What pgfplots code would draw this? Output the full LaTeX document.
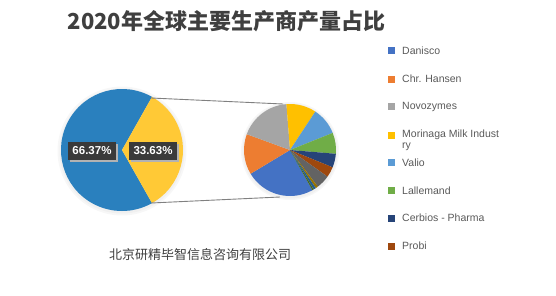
\documentclass[border=0pt]{standalone}
\usepackage{pgfplots}
\pgfplotsset{compat=1.18}
\usepackage{pgfplotstable}
\usepackage{fontspec}
\setmainfont{Liberation Sans}
\newfontfamily\cjk{Noto Sans CJK SC}
\definecolor{lblue}{HTML}{2A80BE}
\definecolor{lyellow}{HTML}{FFC936}
\definecolor{c1}{HTML}{4472C4}
\definecolor{c2}{HTML}{ED7D31}
\definecolor{c3}{HTML}{A5A5A5}
\definecolor{c4}{HTML}{FFC000}
\definecolor{c5}{HTML}{5B9BD5}
\definecolor{c6}{HTML}{70AD47}
\definecolor{c7}{HTML}{264478}
\definecolor{c8}{HTML}{9E480E}
\definecolor{c9}{HTML}{636363}
\definecolor{c10}{HTML}{997300}
\definecolor{c11}{HTML}{255E91}
\definecolor{c12}{HTML}{43682B}
\definecolor{labelbg}{HTML}{3A3A3A}
\definecolor{txtgray}{HTML}{595959}
\definecolor{titlegray}{HTML}{3F3F3F}

\pgfplotstableread{
value color
66.37 lblue
33.63 lyellow
}\leftpie

\pgfplotstableread{
value color
86 c1
50 c2
64 c3
37 c4
34 c5
26 c6
17 c7
13 c8
17 c9
3 c10
3 c11
2 c12
}\rightpie

\begin{document}
\begin{tikzpicture}
\begin{axis}[scale only axis, width=556pt, height=295pt,
  xmin=0, xmax=556, ymin=0, ymax=295, y dir=reverse,
  hide axis, clip=false]
\pgfplotsextra{
  \path (axis cs:0,0) rectangle (axis cs:556,295);
  % soft shadows
  \fill[black!3] (axis cs:122,151) circle[radius=64.5pt];
  \fill[black!6] (axis cs:122,151) circle[radius=62.5pt];
  \fill[black!3] (axis cs:290,151) circle[radius=49pt];
  \fill[black!6] (axis cs:290,151) circle[radius=47.5pt];
  % left pie
  \def\ang{60.534}
  \pgfplotsforeachungrouped \i in {0,1}{
    \pgfplotstablegetelem{\i}{value}\of\leftpie
    \pgfmathsetmacro\sweep{\pgfplotsretval*3.6}
    \pgfplotstablegetelem{\i}{color}\of\leftpie
    \let\col\pgfplotsretval
    \pgfmathsetmacro\angend{\ang+\sweep}
    \fill[fill=\col] (axis cs:122,150) -- ++(\ang:61pt) arc[start angle=\ang, end angle=\angend, radius=61pt] -- cycle;
    \let\ang\angend
  }
  % right pie
  \def\total{0}
  \pgfplotsforeachungrouped \i in {0,...,11}{
    \pgfplotstablegetelem{\i}{value}\of\rightpie
    \pgfmathsetmacro\total{\total+\pgfplotsretval}
  }
  \def\ang{299}
  \pgfplotsforeachungrouped \i in {0,...,11}{
    \pgfplotstablegetelem{\i}{value}\of\rightpie
    \pgfmathsetmacro\sweep{\pgfplotsretval/\total*360}
    \pgfplotstablegetelem{\i}{color}\of\rightpie
    \let\col\pgfplotsretval
    \pgfmathsetmacro\angend{\ang-\sweep}
    \fill[fill=\col] (axis cs:290,150) -- ++(\ang:46pt) arc[start angle=\ang, end angle=\angend, radius=46pt] -- cycle;
    \let\ang\angend
  }
  % connector lines
  \draw[black!50, line width=0.9pt] (axis cs:151,98) -- (axis cs:283,104);
  \draw[black!50, line width=0.9pt] (axis cs:151,203) -- (axis cs:280,197);
  % data labels
  \fill[black!30] (axis cs:70,144) rectangle (axis cs:118,162);
  \fill[black!30] (axis cs:131,144) rectangle (axis cs:179,162);
  \node[fill=labelbg, text=white, font=\bfseries\fontsize{11.5}{12}\selectfont, minimum width=48pt, minimum height=18pt, inner sep=0pt] at (axis cs:92,151) {66.37\%};
  \node[fill=labelbg, text=white, font=\bfseries\fontsize{11.5}{12}\selectfont, minimum width=48pt, minimum height=18pt, inner sep=0pt] at (axis cs:153,151) {33.63\%};
  % title
  \node[font=\cjk\bfseries\fontsize{22}{26}\selectfont, text=titlegray, inner sep=0pt] at (axis cs:226.5,21.5) {2020年全球主要生产商产量占比};
  % source
  \node[font=\cjk\fontsize{13}{15}\selectfont, text=titlegray, inner sep=0pt] at (axis cs:200,255) {北京研精毕智信息咨询有限公司};
  % legend
  \foreach \y/\c/\t in {50.7/c1/Danisco, 79/c2/Chr. Hansen, 106.7/c3/Novozymes, 135/c4/Morinaga Milk Indust, 162.7/c5/Valio, 190.7/c6/Lallemand, 218/c7/Cerbios - Pharma, 246/c8/Probi}{
    \fill[\c] (axis cs:387.5,\y-3.5) rectangle (axis cs:394.5,\y+3.5);
    \node[anchor=west, font=\fontsize{10.5}{12}\selectfont, text=txtgray, inner sep=0pt] at (axis cs:402,\y) {\t};
  }
  \node[anchor=west, font=\fontsize{10.5}{12}\selectfont, text=txtgray, inner sep=0pt] at (axis cs:402,147) {ry};
}
\end{axis}
\end{tikzpicture}
\end{document}
